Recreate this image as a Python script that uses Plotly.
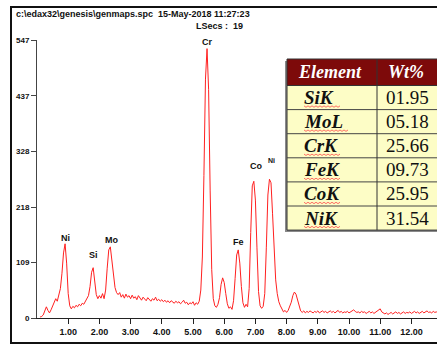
import plotly.graph_objects as go

# ---------------- data ----------------
start_kev = 0.10
step_kev = 0.05
counts = [
    2, 3, 6, 14, 22, 15, 10, 16, 24, 30, 38, 33, 44, 58, 88, 128, 146, 108, 48, 24,
    18, 23, 20, 25, 22, 27, 24, 29, 27, 33, 36, 44, 62, 90, 99, 72, 46, 38, 44, 39,
    48, 38, 55, 98, 134, 140, 115, 82, 60, 50, 46, 50, 41, 46, 39, 47, 41, 44, 38, 45,
    39, 42, 36, 44, 38, 35, 41, 37, 34, 40, 36, 33, 38, 35, 41, 34, 37, 33, 36, 32,
    35, 31, 34, 30, 34, 31, 29, 33, 30, 32, 28, 31, 35, 29, 31, 26, 30, 28, 32, 25,
    30, 27, 33, 55, 120, 280, 470, 530, 450, 250, 95, 38, 24, 21, 27, 40, 66, 79, 70, 48,
    28, 19, 22, 17, 34, 78, 124, 134, 108, 62, 30, 21, 27, 22, 58, 168, 260, 269, 232, 138,
    52, 24, 19, 23, 48, 138, 242, 273, 266, 205, 125, 75, 48, 32, 24, 16, 12, 15, 11, 15,
    22, 31, 44, 51, 47, 34, 21, 14, 11, 14, 10, 13, 11, 14, 12, 10, 13, 11, 14, 10,
    12, 14, 11, 13, 10, 12, 14, 11, 13, 10, 12, 15, 11, 13, 10, 12, 11, 13, 10, 12,
    14, 16, 13, 11, 12, 10, 13, 11, 12, 9, 11, 13, 10, 12, 9, 11, 13, 16, 18, 12,
    10, 8, 10, 7, 9, 11, 8, 10, 12, 9, 11, 8, 10, 12, 9, 11, 10, 12, 9, 11,
    13, 10, 12, 9, 11, 13, 10, 12, 14, 11, 12, 10, 13, 11, 12, 10,
]
energy_kev = [round(start_kev + step_kev * i, 2) for i in range(len(counts))]

peak_labels = ["Ni", "Si", "Mo", "Cr", "Fe", "Co", "Ni"]
peak_label_kev = [0.91, 1.80, 2.40, 5.48, 6.45, 7.02, 7.52]
peak_label_counts = [157, 123, 153, 544, 149, 299, 310]
peak_label_sizes = [9, 9, 9, 9, 9, 9, 7]

y_tick_vals = [0, 109, 218, 328, 437, 547]
x_tick_vals = [1, 2, 3, 4, 5, 6, 7, 8, 9, 10, 11, 12]
x_tick_text = ["1.00", "2.00", "3.00", "4.00", "5.00", "6.00", "7.00", "8.00",
               "9.00", "10.00", "11.00", "12.00"]

table_header = ["Element", "Wt%"]
elements = ["SiK", "MoL", "CrK", "FeK", "CoK", "NiK"]
wt_percent = ["01.95", "05.18", "25.66", "09.73", "25.95", "31.54"]

file_line = "c:\\edax32\\genesis\\genmaps.spc  15-May-2018 11:27:23"
lsecs_line = "LSecs :  19"

# ---------------- layout helpers ----------------
W, H = 437, 348
ML, MR, MT, MB = 37, 0, 40, 30
PW, PH = W - ML - MR, H - MT - MB


def px_x(px):
    return (px - ML) / PW


def px_y(py):
    return (H - MB - py) / PH


fig = go.Figure()

fig.add_trace(go.Scatter(
    x=energy_kev, y=counts, mode="lines",
    line=dict(color="#ff2020", width=1),
    hoverinfo="skip", showlegend=False,
))

for name, e, c, s in zip(peak_labels, peak_label_kev, peak_label_counts, peak_label_sizes):
    fig.add_annotation(x=e, y=c, xref="x", yref="y", text=name, showarrow=False,
                       font=dict(family="Liberation Sans", size=s, color="#111", weight="bold"),
                       xanchor="center", yanchor="middle")

# ---------------- table (shapes + text) ----------------
T_LEFT, T_SPLIT, T_RIGHT = 287, 377, 470
T_TOP, HDR_H, ROW_H = 59, 26.5, 24.1
n_rows = len(elements)
t_bottom = T_TOP + HDR_H + ROW_H * n_rows

# shadow
fig.add_shape(type="rect", xref="paper", yref="paper",
              x0=px_x(T_LEFT - 2), x1=px_x(T_RIGHT), y0=px_y(t_bottom + 2), y1=px_y(T_TOP + 2),
              line=dict(width=0), fillcolor="#8a8a8a", layer="above")
# header
fig.add_shape(type="rect", xref="paper", yref="paper",
              x0=px_x(T_LEFT), x1=px_x(T_RIGHT), y0=px_y(T_TOP + HDR_H), y1=px_y(T_TOP),
              line=dict(color="#333", width=1), fillcolor="#7d0a0a", layer="above")
# body
fig.add_shape(type="rect", xref="paper", yref="paper",
              x0=px_x(T_LEFT), x1=px_x(T_RIGHT), y0=px_y(t_bottom), y1=px_y(T_TOP + HDR_H),
              line=dict(color="#333", width=1), fillcolor="#fdfdc6", layer="above")
# row separators
for i in range(1, n_rows):
    yy = T_TOP + HDR_H + ROW_H * i
    fig.add_shape(type="line", xref="paper", yref="paper",
                  x0=px_x(T_LEFT), x1=px_x(T_RIGHT), y0=px_y(yy), y1=px_y(yy),
                  line=dict(color="#444", width=1), layer="above")
# column separator
fig.add_shape(type="line", xref="paper", yref="paper",
              x0=px_x(T_SPLIT), x1=px_x(T_SPLIT), y0=px_y(t_bottom), y1=px_y(T_TOP),
              line=dict(color="#333", width=1), layer="above")

hdr_font = dict(family="Liberation Serif", size=18, color="white", weight="bold", style="italic")
fig.add_annotation(x=px_x((T_LEFT + T_SPLIT) / 2 - 2), y=px_y(T_TOP + HDR_H / 2), xref="paper",
                   yref="paper", text=table_header[0], showarrow=False, xanchor="center",
                   yanchor="middle", font=hdr_font)
fig.add_annotation(x=px_x(T_SPLIT + 9), y=px_y(T_TOP + HDR_H / 2), xref="paper",
                   yref="paper", text=table_header[1], showarrow=False, xanchor="left",
                   yanchor="middle", font=hdr_font)

for i, (el, wt) in enumerate(zip(elements, wt_percent)):
    yc = T_TOP + HDR_H + ROW_H * (i + 0.5)
    fig.add_annotation(x=px_x(T_LEFT + 15), y=px_y(yc), xref="paper", yref="paper",
                       text=el, showarrow=False, xanchor="left", yanchor="middle",
                       font=dict(family="Liberation Serif", size=19, color="#111",
                                 weight="bold", style="italic"))
    fig.add_annotation(x=px_x(T_SPLIT + 7), y=px_y(yc), xref="paper", yref="paper",
                       text=wt, showarrow=False, xanchor="left", yanchor="middle",
                       font=dict(family="Liberation Serif", size=19, color="#111"))
    # spell-check style wavy underline
    x_start = T_LEFT + 17
    w_text = 12.5 * len(el) + (8 if "M" in el else 0)
    y_base = yc + 8.5
    pts = []
    k = 0
    xx = x_start
    while xx <= x_start + w_text:
        pts.append("%s %.4f,%.4f" % ("M" if k == 0 else "L", px_x(xx), px_y(y_base + (1.2 if k % 2 else -0.2))))
        xx += 2
        k += 1
    fig.add_shape(type="path", xref="paper", yref="paper", path=" ".join(pts),
                  line=dict(color="#ff4a4a", width=0.8), layer="above")

fig.add_annotation(x=px_x(14), y=px_y(14), xref="paper", yref="paper", text=file_line,
                   showarrow=False, xanchor="left", yanchor="middle",
                   font=dict(family="Liberation Sans", size=9, color="#111", weight="bold"))
fig.add_annotation(x=px_x(245), y=px_y(26), xref="paper", yref="paper", text=lsecs_line,
                   showarrow=False, xanchor="right", yanchor="middle",
                   font=dict(family="Liberation Sans", size=9, color="#111", weight="bold"))

# outer frame
fig.add_shape(type="rect", xref="paper", yref="paper",
              x0=px_x(11), x1=px_x(470), y0=px_y(343), y1=px_y(7),
              line=dict(color="#111", width=2), fillcolor="rgba(0,0,0,0)", layer="above")

fig.update_xaxes(range=[0, (W - ML) / 31.2], tickvals=x_tick_vals, ticktext=x_tick_text,
                 showline=True, linecolor="#222", linewidth=1, ticks="outside", ticklen=5,
                 tickcolor="#222", showgrid=False, zeroline=False,
                 tickfont=dict(family="Liberation Sans", size=9, color="#111", weight="bold"))
fig.update_yaxes(range=[0, 547], tickvals=y_tick_vals, ticktext=[str(v) for v in y_tick_vals],
                 showline=True, linecolor="#444", linewidth=1, ticks="outside", ticklen=5,
                 tickcolor="#444", showgrid=False, zeroline=False,
                 tickfont=dict(family="Liberation Sans", size=8, color="#111", weight="bold"))

fig.update_layout(width=W, height=H, margin=dict(l=ML, r=MR, t=MT, b=MB),
                  plot_bgcolor="white", paper_bgcolor="white", showlegend=False)

fig.write_html("out.html")
